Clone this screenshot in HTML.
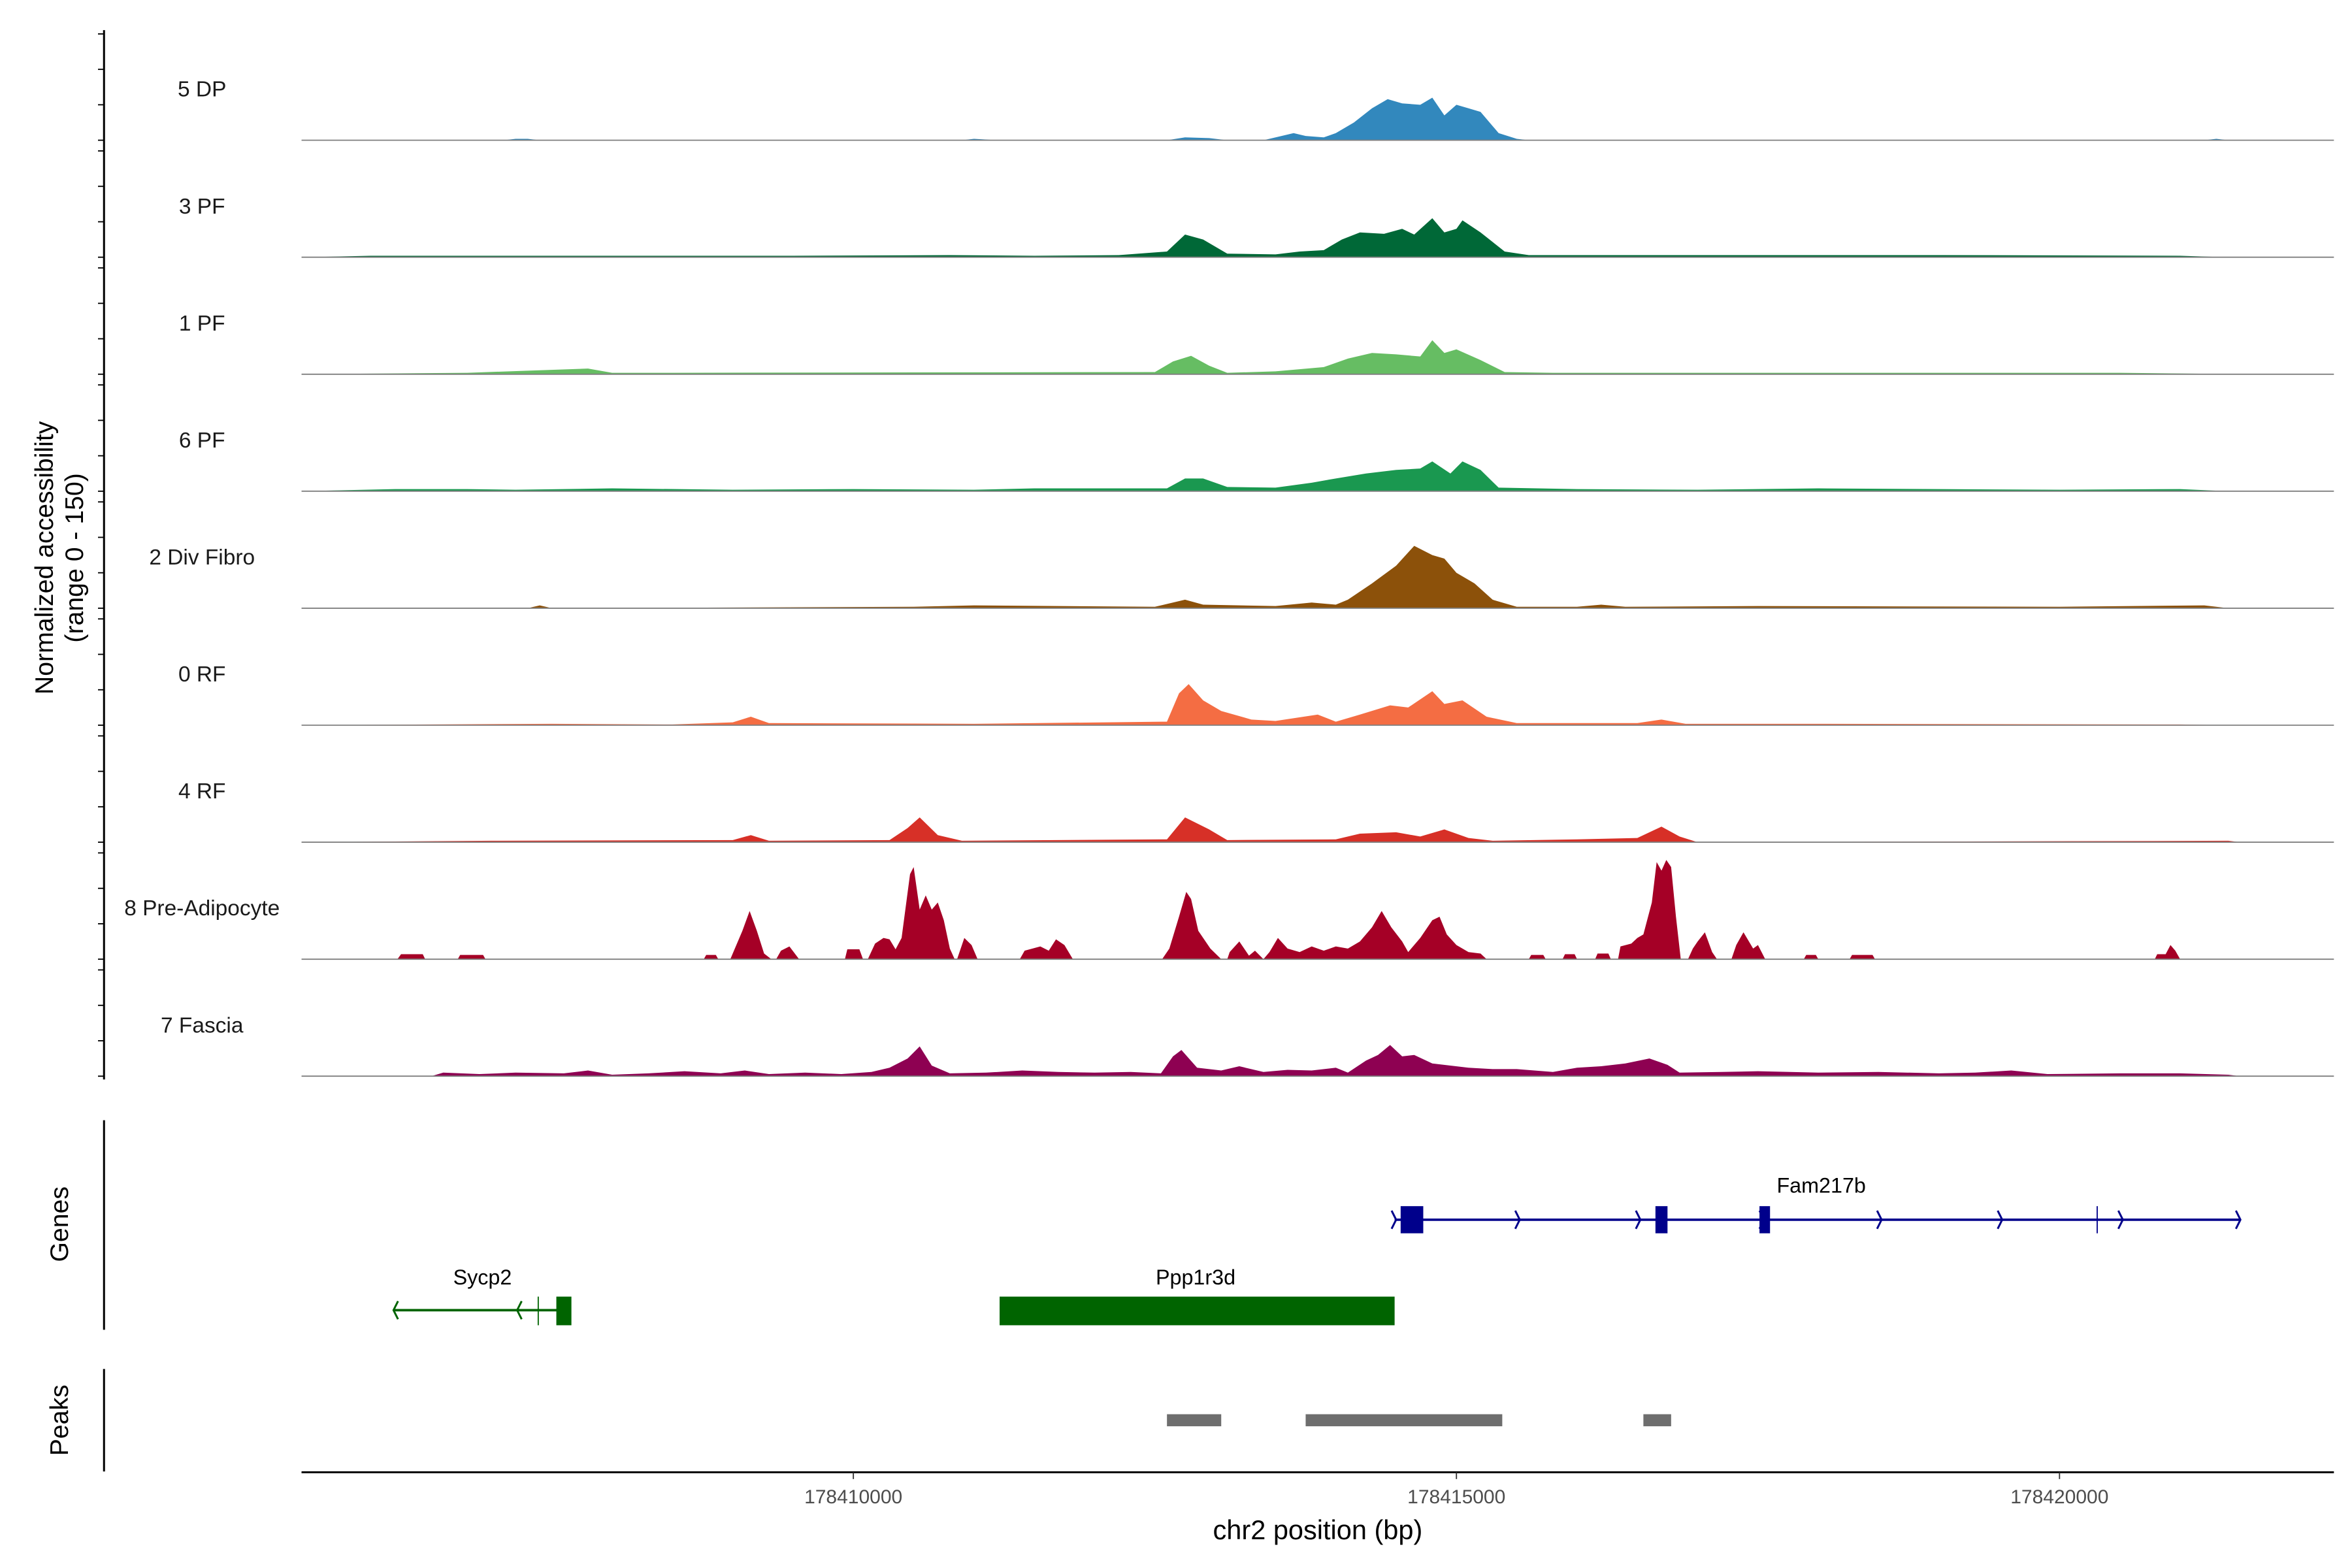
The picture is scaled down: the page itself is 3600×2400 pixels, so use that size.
<!DOCTYPE html>
<html><head><meta charset="utf-8"><style>
html,body{margin:0;padding:0;background:#fff}
svg{display:block}
text{font-family:"Liberation Sans",sans-serif}
</style></head><body>
<svg id="chart" xmlns="http://www.w3.org/2000/svg" width="3600" height="2400" viewBox="0 0 1560 1040">
<rect x="0" y="0" width="1560" height="1040" fill="#fff"/>
<g id="tracks"></g>
<g id="axes"></g>
<g id="genes"></g>
<g id="peaks"></g>
</svg>
<script>
const trackNames=["5 DP","3 PF","1 PF","6 PF","2 Div Fibro","0 RF","4 RF","8 Pre-Adipocyte","7 Fascia"];
const trackColors=["#3288bd","#006837","#66bd63","#1a9850","#8c510a","#f46d43","#d73027","#a50026","#8e0152"];
const dp=[[178405.43,0],[178407.1,0],[178407.2,2],[178407.3,2],[178407.4,0],[178410.9,0],[178411.0,2],[178411.2,0],[178412.6,0],[178412.75,4],[178412.95,3],[178413.1,0],[178413.4,0],[178413.55,6],[178413.65,10],[178413.75,6],[178413.9,4],[178414.0,10],[178414.15,25],[178414.3,45],[178414.43,58],[178414.55,52],[178414.7,50],[178414.8,60],[178414.9,35],[178415.0,50],[178415.1,45],[178415.2,40],[178415.35,10],[178415.5,2],[178415.6,0],[178421.2,0],[178421.3,2],[178421.4,0]];
const pf3=[[178405.43,0],[178406.0,2],[178408.0,2],[178409.5,2],[178410.8,3],[178411.5,2],[178412.2,3],[178412.6,8],[178412.75,32],[178412.9,25],[178413.1,5],[178413.5,4],[178413.7,8],[178413.9,10],[178414.05,25],[178414.2,35],[178414.4,33],[178414.55,40],[178414.65,32],[178414.8,55],[178414.9,35],[178415.0,40],[178415.05,52],[178415.2,35],[178415.4,8],[178415.6,3],[178417.0,3],[178419.0,3],[178421.0,2],[178421.4,0]];
const pf1=[[178405.43,0],[178406.8,2],[178407.8,8],[178408.0,2],[178408.5,2],[178412.5,3],[178412.65,18],[178412.8,26],[178412.95,12],[178413.1,2],[178413.5,4],[178413.9,10],[178414.1,22],[178414.3,30],[178414.5,28],[178414.7,25],[178414.8,48],[178414.9,30],[178415.0,35],[178415.2,20],[178415.4,3],[178415.8,2],[178418.0,2],[178420.5,2],[178421.0,1],[178421.5,0]];
const pf6=[[178405.43,0],[178406.2,3],[178406.8,3],[178407.2,2],[178408.0,4],[178409.0,2],[178410.0,3],[178411.0,2],[178411.5,4],[178412.6,4],[178412.75,18],[178412.9,18],[178413.1,6],[178413.5,5],[178413.8,12],[178414.0,18],[178414.25,25],[178414.5,30],[178414.7,32],[178414.8,42],[178414.95,25],[178415.05,42],[178415.2,30],[178415.35,5],[178416.0,3],[178417.0,2],[178418.0,4],[178419.0,3],[178420.0,2],[178421.0,3],[178421.4,0]];
const div2=[[178405.43,0],[178407.3,0],[178407.4,4],[178407.5,0],[178410.5,2],[178411.0,4],[178412.5,2],[178412.75,12],[178412.9,5],[178413.5,3],[178413.8,8],[178414.0,5],[178414.1,12],[178414.3,35],[178414.5,60],[178414.65,88],[178414.8,75],[178414.9,70],[178415.0,50],[178415.15,35],[178415.3,12],[178415.5,2],[178416.0,2],[178416.2,5],[178416.4,2],[178417.5,3],[178420.0,2],[178421.2,4],[178421.4,0]];
const rf0=[[178405.43,0],[178407.5,2],[178408.5,1],[178409.0,4],[178409.15,12],[178409.3,3],[178411.0,2],[178412.6,5],[178412.7,45],[178412.78,58],[178412.9,35],[178413.05,20],[178413.3,8],[178413.5,6],[178413.85,15],[178414.0,5],[178414.2,15],[178414.45,28],[178414.6,25],[178414.8,48],[178414.9,30],[178415.05,35],[178415.25,12],[178415.5,3],[178416.5,3],[178416.7,8],[178416.9,2],[178418.0,2],[178421.0,1],[178421.4,0]];
const rf4=[[178405.43,0],[178407.0,2],[178409.0,3],[178409.15,10],[178409.3,2],[178410.3,3],[178410.45,20],[178410.55,35],[178410.7,10],[178410.9,2],[178412.6,4],[178412.75,35],[178412.95,18],[178413.1,3],[178414.0,4],[178414.2,12],[178414.5,14],[178414.7,8],[178414.9,18],[178415.1,6],[178415.3,2],[178416.0,4],[178416.5,6],[178416.7,22],[178416.85,8],[178417.0,0],[178421.4,2],[178421.5,0]];
const preadi=[[178405.43,0],[178406.22,0],[178406.25,7],[178406.43,7],[178406.45,0],[178406.72,0],[178406.74,6],[178406.93,6],[178406.95,0],[178408.76,0],[178408.78,6],[178408.86,6],[178408.88,0],[178408.98,0],[178409.08,40],[178409.14,68],[178409.2,40],[178409.26,8],[178409.32,0],[178409.36,0],[178409.4,12],[178409.47,18],[178409.55,0],[178409.93,0],[178409.95,14],[178410.05,14],[178410.08,0],[178410.12,0],[178410.18,22],[178410.25,30],[178410.3,28],[178410.35,14],[178410.4,30],[178410.47,120],[178410.5,130],[178410.55,70],[178410.6,90],[178410.65,70],[178410.7,80],[178410.75,55],[178410.8,15],[178410.84,0],[178410.86,0],[178410.92,30],[178410.98,20],[178411.03,0],[178411.38,0],[178411.42,12],[178411.55,18],[178411.62,12],[178411.68,28],[178411.75,20],[178411.82,0],[178412.56,0],[178412.62,15],[178412.7,60],[178412.76,95],[178412.8,85],[178412.86,40],[178412.96,15],[178413.05,0],[178413.1,0],[178413.12,10],[178413.2,25],[178413.28,5],[178413.33,12],[178413.4,0],[178413.45,10],[178413.52,30],[178413.6,15],[178413.7,10],[178413.8,18],[178413.9,12],[178414.0,18],[178414.1,15],[178414.2,25],[178414.3,45],[178414.38,68],[178414.46,45],[178414.55,25],[178414.6,10],[178414.7,30],[178414.8,55],[178414.86,60],[178414.92,35],[178415.0,20],[178415.1,10],[178415.2,8],[178415.25,0],[178415.6,0],[178415.62,6],[178415.72,6],[178415.74,0],[178415.88,0],[178415.9,7],[178415.98,7],[178416.0,0],[178416.15,0],[178416.17,8],[178416.26,8],[178416.28,0],[178416.34,0],[178416.36,18],[178416.45,22],[178416.5,30],[178416.55,35],[178416.62,80],[178416.66,137],[178416.7,125],[178416.74,140],[178416.78,130],[178416.82,60],[178416.86,0],[178416.92,0],[178416.96,15],[178417.0,25],[178417.06,38],[178417.12,10],[178417.16,0],[178417.28,0],[178417.32,20],[178417.38,38],[178417.46,15],[178417.5,20],[178417.56,0],[178417.88,0],[178417.9,6],[178417.98,6],[178418.0,0],[178418.26,0],[178418.28,6],[178418.45,6],[178418.47,0],[178420.79,0],[178420.81,7],[178420.88,7],[178420.92,20],[178420.96,12],[178421.0,0],[178422.27,0]];
const fascia=[[178405.43,0],[178406.5,0],[178406.6,5],[178406.9,3],[178407.2,5],[178407.6,4],[178407.8,8],[178408.0,2],[178408.3,4],[178408.6,7],[178408.9,4],[178409.1,8],[178409.3,3],[178409.6,5],[178409.9,3],[178410.15,6],[178410.3,12],[178410.45,25],[178410.55,42],[178410.65,15],[178410.8,4],[178411.1,5],[178411.4,8],[178411.7,6],[178412.0,5],[178412.3,6],[178412.55,4],[178412.65,28],[178412.72,37],[178412.85,12],[178413.05,8],[178413.2,14],[178413.4,6],[178413.6,9],[178413.8,8],[178414.0,12],[178414.1,5],[178414.25,22],[178414.35,30],[178414.45,44],[178414.55,28],[178414.65,30],[178414.8,18],[178414.95,15],[178415.1,12],[178415.3,10],[178415.5,10],[178415.8,6],[178416.0,12],[178416.2,14],[178416.4,18],[178416.6,25],[178416.75,16],[178416.85,5],[178417.2,6],[178417.5,7],[178418.0,5],[178418.5,6],[178419.0,4],[178419.3,5],[178419.6,8],[178419.9,3],[178420.5,4],[178421.0,4],[178421.4,2],[178421.5,0]];
const trackData=[dp,pf3,pf1,pf6,div2,rf0,rf4,preadi,fascia];
const xTicks=[178410000,178415000,178420000];
const peakRegions=[[178412.6,178413.05],[178413.75,178415.38],[178416.55,178416.78]];

const NS="http://www.w3.org/2000/svg";
function mk(tag,attrs,parent){const e=document.createElementNS(NS,tag);for(const k in attrs)e.setAttribute(k,attrs[k]);parent.appendChild(e);return e;}
function xs(kb){return 566+(kb-178410)*80;}
const base0=93,step=77.6,ppu=0.47;
function ys(i,v){return base0+i*step-v*ppu;}
const T=document.getElementById('tracks');
trackData.forEach((d,i)=>{
  const b=ys(i,0);
  let pts=xs(d[0][0])+","+b+" ";
  d.forEach(p=>{pts+=xs(p[0]).toFixed(2)+","+ys(i,p[1]).toFixed(2)+" ";});
  pts+=xs(d[d.length-1][0])+","+b;
  const a=mk('polygon',{points:pts,fill:trackColors[i]},T);
  
  
  const l=mk('line',{x1:200,x2:1548,y1:b,y2:b,stroke:'#7f7f7f','stroke-width':0.8},T);
  
  
  const t=mk('text',{x:134,y:b-29,'text-anchor':'middle','font-size':14.5,fill:'#1a1a1a'},T);
  t.textContent=trackNames[i];
  
  
});
const A=document.getElementById('axes');
mk('line',{x1:69,x2:69,y1:20,y2:716,stroke:'#000','stroke-width':1.3},A);
for(let i=0;i<trackData.length;i++){for(let k=0;k<4;k++){const y=ys(i,k*50);mk('line',{x1:65,x2:69,y1:y,y2:y,stroke:'#000','stroke-width':0.8},A);}}
let yt=mk('text',{transform:'translate(35,370) rotate(-90)','text-anchor':'middle','font-size':17,fill:'#000'},A);
yt.textContent='Normalized accessibility';


let yt2=mk('text',{transform:'translate(55,370) rotate(-90)','text-anchor':'middle','font-size':17,fill:'#000'},A);
yt2.textContent='(range 0 - 150)';


mk('line',{x1:200,x2:1548,y1:976.5,y2:976.5,stroke:'#000','stroke-width':1.3},A);
xTicks.forEach(v=>{const x=xs(v/1000);mk('line',{x1:x,x2:x,y1:976.5,y2:981,stroke:'#333','stroke-width':0.8},A);
  const t=mk('text',{x:x,y:997,'text-anchor':'middle','font-size':13,fill:'#4d4d4d'},A);t.textContent=String(v);
  
  });
let xt=mk('text',{x:874,y:1021,'text-anchor':'middle','font-size':18,fill:'#000'},A);
xt.textContent='chr2 position (bp)';


// genes
const G=document.getElementById('genes');
mk('line',{x1:69,x2:69,y1:743,y2:882,stroke:'#000','stroke-width':1.3},G);
let gt=mk('text',{transform:'translate(45,812) rotate(-90)','text-anchor':'middle','font-size':17,fill:'#000'},G);
gt.textContent='Genes';


const nv='#00008b',dg='#006400';
mk('line',{x1:925,x2:1486,y1:809,y2:809,stroke:nv,'stroke-width':1.6},G);
[926,1008,1088,1170,1248,1328,1408,1486].forEach(x=>mk('polyline',{points:`${x-3},803 ${x},809 ${x-3},815`,fill:'none',stroke:nv,'stroke-width':1.3},G));
mk('rect',{x:929,y:800,width:15,height:18,fill:nv},G);
mk('rect',{x:1098,y:800,width:8,height:18,fill:nv},G);
mk('rect',{x:1167,y:800,width:7,height:18,fill:nv},G);
mk('line',{x1:1391,x2:1391,y1:800,y2:818,stroke:nv,'stroke-width':0.8},G);
let f=mk('text',{x:1208,y:791,'text-anchor':'middle','font-size':14,fill:'#000'},G);f.textContent='Fam217b';


mk('line',{x1:261,x2:378,y1:869,y2:869,stroke:dg,'stroke-width':1.6},G);
[261,343].forEach(x=>mk('polyline',{points:`${x+3},863 ${x},869 ${x+3},875`,fill:'none',stroke:dg,'stroke-width':1.3},G));
mk('line',{x1:357,x2:357,y1:860,y2:879,stroke:dg,'stroke-width':0.8},G);
mk('rect',{x:369,y:860,width:10,height:19,fill:dg},G);
mk('rect',{x:663,y:860,width:262,height:19,fill:dg},G);
let s=mk('text',{x:320,y:852,'text-anchor':'middle','font-size':14,fill:'#000'},G);s.textContent='Sycp2';


let p=mk('text',{x:793,y:852,'text-anchor':'middle','font-size':14,fill:'#000'},G);p.textContent='Ppp1r3d';


// peaks
const P=document.getElementById('peaks');
mk('line',{x1:69,x2:69,y1:908,y2:976,stroke:'#000','stroke-width':1.3},P);
let pt=mk('text',{transform:'translate(45,942) rotate(-90)','text-anchor':'middle','font-size':17,fill:'#000'},P);
pt.textContent='Peaks';


peakRegions.forEach(r=>{const e=mk('rect',{x:xs(r[0]),y:938,width:xs(r[1])-xs(r[0]),height:8,fill:'#6e6e6e'},P);
  
  });
</script>
</body></html>
